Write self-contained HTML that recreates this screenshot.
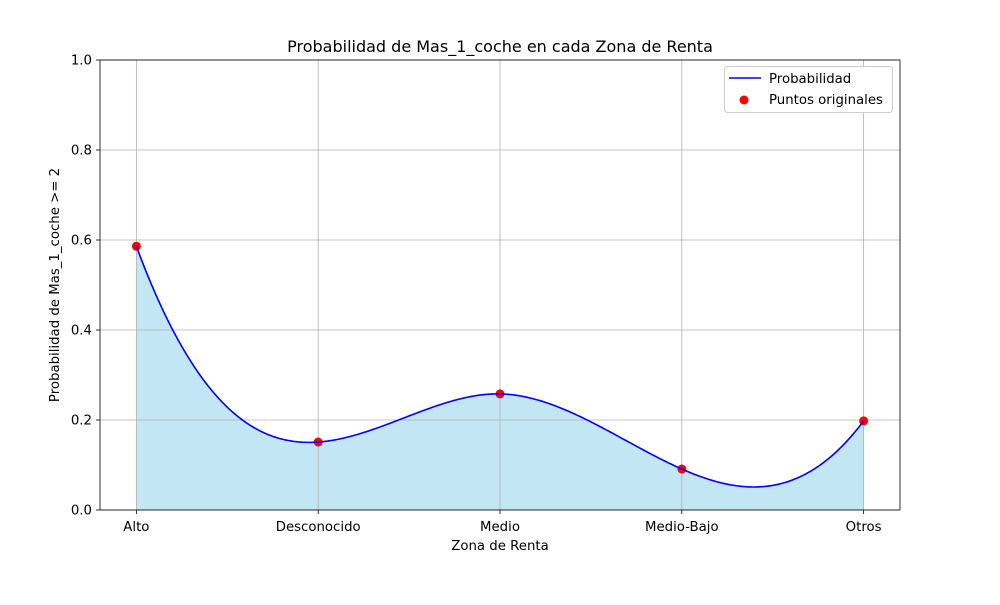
<!DOCTYPE html>
<html><head><meta charset="utf-8"><style>
body{margin:0;background:#fff}
svg text{font-family:"DejaVu Sans","Liberation Sans",sans-serif;fill:#000}
</style></head><body>
<svg id="c" width="1000" height="600"></svg>
<script>
const categories=["Alto","Desconocido","Medio","Medio-Bajo","Otros"];
const values=[0.586,0.151,0.258,0.091,0.198];
const yTicks=[0,0.2,0.4,0.6,0.8,1.0];
const L=100,R=900,T=60,B=510;
const sx=i=>L+(i+0.2)/4.4*(R-L);
const sy=v=>B-v*(B-T);
const NS="http://www.w3.org/2000/svg";
const svg=document.getElementById('c');
function mk(t,a,txt){const e=document.createElementNS(NS,t);for(const k in a)e.setAttribute(k,a[k]);if(txt!==undefined)e.textContent=txt;svg.appendChild(e);return e;}
const n=values.length;
const A=[],b=[];
for(let i=0;i<n;i++){A.push(new Array(n).fill(0));b.push(0);}
A[0][0]=1;A[0][1]=-2;A[0][2]=1;
for(let i=1;i<n-1;i++){A[i][i-1]=1;A[i][i]=4;A[i][i+1]=1;b[i]=6*(values[i+1]-2*values[i]+values[i-1]);}
A[n-1][n-3]=1;A[n-1][n-2]=-2;A[n-1][n-1]=1;
for(let i=0;i<n;i++){let p=i;for(let r=i+1;r<n;r++)if(Math.abs(A[r][i])>Math.abs(A[p][i]))p=r;
[A[i],A[p]]=[A[p],A[i]];[b[i],b[p]]=[b[p],b[i]];
for(let r=0;r<n;r++){if(r===i)continue;const f=A[r][i]/A[i][i];for(let c=i;c<n;c++)A[r][c]-=f*A[i][c];b[r]-=f*b[i];}}
const M=b.map((v,i)=>v/A[i][i]);
function S(x){let i=Math.min(Math.floor(x),n-2);const t=x-i,u=1-t;
return M[i]*u*u*u/6+M[i+1]*t*t*t/6+(values[i]-M[i]/6)*u+(values[i+1]-M[i+1]/6)*t;}
let pts=[];for(let k=0;k<=400;k++){const x=k/400*(n-1);pts.push([sx(x),sy(S(x))]);}
const line=pts.map(p=>p[0].toFixed(2)+","+p[1].toFixed(2)).join(" ");
let e=mk('polygon',{points:sx(0)+","+sy(0)+" "+line+" "+sx(n-1)+","+sy(0),fill:"#c3e6f4",stroke:"none"});

categories.forEach((c,i)=>{const g=mk('line',{x1:sx(i),x2:sx(i),y1:T,y2:B,stroke:"#b0b0b0","stroke-width":0.8});

mk('line',{x1:sx(i),x2:sx(i),y1:B,y2:B+4,stroke:"#000","stroke-width":0.8});
const t=mk('text',{x:sx(i),y:B+21,"text-anchor":"middle","font-size":13.3},c);
});
yTicks.forEach(v=>{const g=mk('line',{x1:L,x2:R,y1:sy(v),y2:sy(v),stroke:"#b0b0b0","stroke-width":0.8});

mk('line',{x1:L-4,x2:L,y1:sy(v),y2:sy(v),stroke:"#000","stroke-width":0.8});
const t=mk('text',{x:L-8,y:sy(v)+4.5,"text-anchor":"end","font-size":13.3},v.toFixed(1));
});
values.forEach((v,i)=>{const p=mk('circle',{cx:sx(i),cy:sy(v),r:4.5,fill:"#ff0000"});
});
e=mk('polyline',{points:line,fill:"none",stroke:"#0000ff","stroke-width":1.6});

e=mk('rect',{x:L,y:T,width:R-L,height:B-T,fill:"none",stroke:"#000","stroke-width":0.8});

e=mk('text',{x:500,y:52,"text-anchor":"middle","font-size":16},"Probabilidad de Mas_1_coche en cada Zona de Renta");

e=mk('text',{x:500,y:550,"text-anchor":"middle","font-size":13.3},"Zona de Renta");

e=mk('text',{x:59,y:285,"text-anchor":"middle","font-size":13.3,transform:"rotate(-90 59 285)"},"Probabilidad de Mas_1_coche >= 2");

e=mk('rect',{x:724.5,y:66.5,width:168,height:46,rx:3,fill:"#fff",stroke:"#ccc"});

mk('line',{x1:729,x2:761,y1:78,y2:78,stroke:"#0000ff","stroke-width":1.6});
e=mk('text',{x:769,y:83,"font-size":13.3},"Probabilidad");

mk('circle',{cx:744,cy:100,r:4.5,fill:"#ff0000"});
e=mk('text',{x:769,y:104,"font-size":13.3},"Puntos originales");

</script>
</body></html>
